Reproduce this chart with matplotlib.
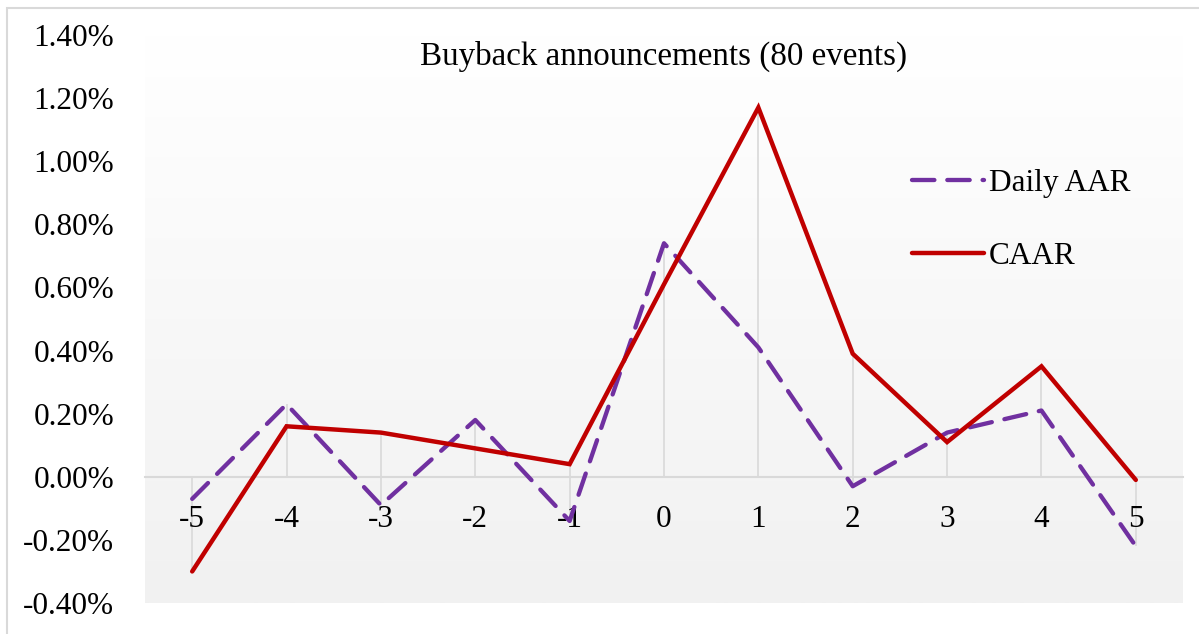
import numpy as np
import matplotlib
matplotlib.use("Agg")
import matplotlib.pyplot as plt
from matplotlib.patches import Rectangle
from matplotlib.ticker import FuncFormatter

days = [-5, -4, -3, -2, -1, 0, 1, 2, 3, 4, 5]
daily_aar = [-0.07, 0.23, -0.09, 0.18, -0.14, 0.74, 0.41, -0.03, 0.14, 0.21, -0.22]
caar = [-0.30, 0.16, 0.14, 0.09, 0.04, 0.61, 1.17, 0.39, 0.11, 0.35, -0.01]
title = "Buyback announcements (80 events)"
yticks = [-0.4, -0.2, 0.0, 0.2, 0.4, 0.6, 0.8, 1.0, 1.2, 1.4]

plt.rcParams['font.family'] = ['Liberation Serif', 'DejaVu Serif']

W, H = 1199, 634
fig = plt.figure(figsize=(W / 100, H / 100), dpi=100)
fig.patch.set_facecolor('white')
# outer chart frame
fig.patches.append(Rectangle((7 / W, -0.1), 1.2, (H - 8) / H + 0.1, transform=fig.transFigure,
                             fill=False, edgecolor='#d9d9d9', linewidth=1.5))

ax = fig.add_axes([145 / W, (H - 603) / H, (1183 - 145) / W, (603 - 35) / H])
ax.set_xlim(-5.5, 5.5)
ax.set_ylim(-0.4, 1.4)

# gradient background (white at top -> light grey at bottom)
grad = np.linspace(0, 1, 256).reshape(-1, 1)
cmap = matplotlib.colors.LinearSegmentedColormap.from_list('g', ['#ffffff', '#f1f1f1'])
ax.imshow(grad, extent=[0, 1, 0, 1], transform=ax.transAxes, aspect='auto',
          cmap=cmap, zorder=0, origin='upper')

# drop lines
for x, a, c in zip(days, daily_aar, caar):
    lo = min(0, a, c)
    hi = max(0, a, c)
    ax.vlines(x, lo, hi, color='#d9d9d9', linewidth=1.2, zorder=1)

ax.plot(days, daily_aar, color='#7030A0', linewidth=3.1, linestyle=(0, (5.2, 3.0)),
        dash_capstyle='round', solid_capstyle='round', label='Daily AAR', zorder=3)
ax.plot(days, caar, color='#C00000', linewidth=3.2, solid_capstyle='round',
        solid_joinstyle='miter', label='CAAR', zorder=3)

for s in ['top', 'right', 'left']:
    ax.spines[s].set_visible(False)
ax.spines['bottom'].set_position(('data', 0))
ax.spines['bottom'].set_color('#d9d9d9')
ax.spines['bottom'].set_linewidth(1.5)
ax.spines['bottom'].set_zorder(1)

ax.set_xticks(days)
ax.set_xticklabels([str(d) for d in days])
ax.set_yticks(yticks)
ax.yaxis.set_major_formatter(FuncFormatter(lambda v, p: f"{v:.2f}%"))
ax.tick_params(axis='x', length=0, pad=20, labelsize=22.5)
ax.tick_params(axis='y', length=0, pad=22, labelsize=22.5)

ax.text(0.5, 1 - 21 / 568, title, transform=ax.transAxes, ha='center', va='center',
        fontsize=23.8)

leg = ax.legend(loc='upper left', bbox_to_anchor=((912 - 145) / 1038, 1 - (169 - 35) / 568),
                frameon=False, fontsize=22.5, handlelength=2.3, handletextpad=0.15,
                labelspacing=1.42, borderaxespad=0, borderpad=0)

fig.savefig('out.png', dpi=100)
